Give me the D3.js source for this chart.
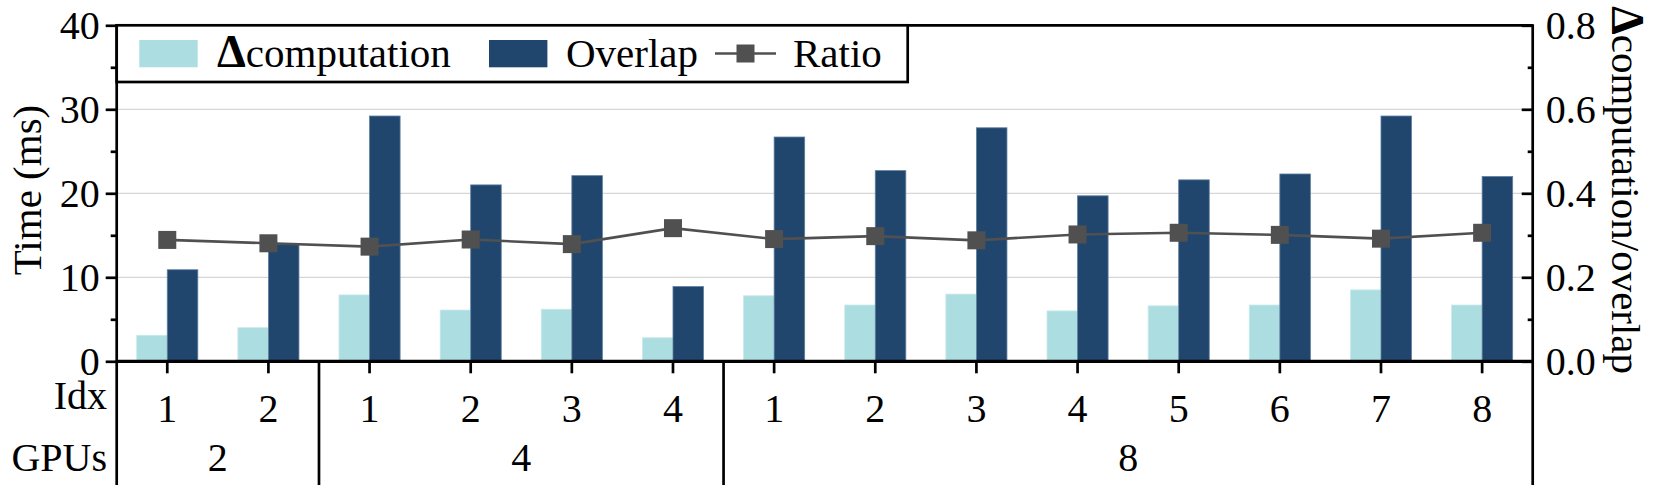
<!DOCTYPE html>
<html><head><meta charset="utf-8">
<script src="https://cdn.jsdelivr.net/npm/d3@7"></script>
<style>
body{margin:0;background:#fff;}
svg text{font-family:"Liberation Serif","Times New Roman",serif;fill:#000;}
</style></head><body><svg id="c" width="1661" height="492"></svg>
<script>
// ---- data ----
const gpuGroups = ["2", "4", "8"];
const gpus = ["2","2","4","4","4","4","8","8","8","8","8","8","8","8"];
const idx = ["1","2","1","2","3","4","1","2","3","4","5","6","7","8"];
const deltaComp = [3.1, 4.0, 7.9, 6.1, 6.2, 2.8, 7.8, 6.7, 8.0, 6.0, 6.6, 6.7, 8.5, 6.7];
const overlap   = [10.9, 13.9, 29.2, 21.0, 22.1, 8.9, 26.7, 22.7, 27.8, 19.7, 21.6, 22.3, 29.2, 22.0];
const ratio     = [0.289, 0.281, 0.273, 0.290, 0.279, 0.317, 0.291, 0.298, 0.288, 0.302, 0.306, 0.301, 0.292, 0.306];
const leftTicks = [0, 10, 20, 30, 40];
const leftMinor = [5, 15, 25, 35];
const rightTicks = [0, 0.2, 0.4, 0.6, 0.8];
const rightMinor = [0.1, 0.3, 0.5, 0.7];

// ---- layout ----
const L = 116.7, R = 1532.7, T = 25.3, B = 361.3, BOT = 485;
const C_LIGHT = "#acdde0", C_DARK = "#21466e", C_LINE = "#505050";
const AX = 2.7;
const svg = d3.select("#c");
const n = idx.length;
const x = d3.scaleBand().domain(d3.range(n)).range([L, R]).padding(0);
const cx = i => x(i) + x.bandwidth() / 2;
const yL = d3.scaleLinear().domain([0, 40]).range([B, T]);
const yR = d3.scaleLinear().domain([0, 0.8]).range([B, T]);
const barW = x.bandwidth() * 0.302;

// gridlines
svg.append("g").selectAll("line").data([10, 20, 30]).join("line")
  .attr("x1", L).attr("x2", R).attr("y1", d => yL(d)).attr("y2", d => yL(d))
  .attr("stroke", "#d6d6d6").attr("stroke-width", 1.2);

// bars
const bars = svg.append("g");
bars.selectAll(".lt").data(deltaComp).join("rect").attr("class", "lt")
  .attr("x", (d, i) => cx(i) - barW).attr("width", barW)
  .attr("y", d => yL(d)).attr("height", d => B - yL(d))
  .attr("fill", C_LIGHT).attr("stroke", "#c9e9eb").attr("stroke-width", 0.8);
bars.selectAll(".dk").data(overlap).join("rect").attr("class", "dk")
  .attr("x", (d, i) => cx(i)).attr("width", barW)
  .attr("y", d => yL(d)).attr("height", d => B - yL(d))
  .attr("fill", C_DARK).attr("stroke", "#5f7f9f").attr("stroke-width", 0.8);

// ratio line
const line = d3.line().x((d, i) => cx(i)).y(d => yR(d));
svg.append("path").datum(ratio).attr("d", line).attr("fill", "none")
  .attr("stroke", C_LINE).attr("stroke-width", 2.6);
const ms = 18;
svg.append("g").selectAll("rect").data(ratio).join("rect")
  .attr("x", (d, i) => cx(i) - ms / 2).attr("y", d => yR(d) - ms / 2)
  .attr("width", ms).attr("height", ms).attr("fill", C_LINE);

// axes
const TF = 40;
const gl = svg.append("g").attr("transform", `translate(${L},0)`)
  .call(d3.axisLeft(yL).tickValues(leftTicks).tickSize(11).tickPadding(6).tickFormat(d3.format("d")));
const glm = svg.append("g").attr("transform", `translate(${L},0)`)
  .call(d3.axisLeft(yL).tickValues(leftMinor).tickSize(6).tickFormat(""));
const gr = svg.append("g").attr("transform", `translate(${R},0)`)
  .call(d3.axisRight(yR).tickValues(rightTicks).tickSize(-11).tickPadding(13).tickFormat(d3.format(".1f")));
const grm = svg.append("g").attr("transform", `translate(${R},0)`)
  .call(d3.axisRight(yR).tickValues(rightMinor).tickSize(-5).tickFormat(""));
const gb = svg.append("g").attr("transform", `translate(0,${B})`)
  .call(d3.axisBottom(x).tickSize(12).tickPadding(20).tickFormat(i => idx[i]));
[gl, glm, gr, grm, gb].forEach(g => {
  g.select(".domain").remove();
  g.selectAll(".tick line").attr("stroke", "#000").attr("stroke-width", AX);
  g.selectAll(".tick text").attr("font-size", TF).attr("font-family", null);
});
gl.selectAll(".tick text").attr("dy", "0.33em");
gr.selectAll(".tick text").attr("dy", "0.33em");

// frame lines
const frame = svg.append("g").attr("stroke", "#000").attr("stroke-width", AX);
frame.append("line").attr("x1", L).attr("x2", R).attr("y1", T).attr("y2", T);
frame.append("line").attr("x1", L - 1).attr("x2", R + 1).attr("y1", B).attr("y2", B).attr("stroke-width", 3.2);
frame.append("line").attr("x1", L).attr("x2", L).attr("y1", T - 1).attr("y2", BOT);
frame.append("line").attr("x1", R).attr("x2", R).attr("y1", T - 1).attr("y2", BOT);
// group separators
const seps = [];
for (let i = 1; i < n; i++) if (gpus[i] !== gpus[i - 1]) seps.push(i);
frame.selectAll(".sep").data(seps).join("line").attr("class", "sep")
  .attr("x1", i => x(i)).attr("x2", i => x(i)).attr("y1", B).attr("y2", BOT);

// group labels
const groupCenters = gpuGroups.map(g => {
  const ids = d3.range(n).filter(i => gpus[i] === g);
  return { g, c: (x(ids[0]) + x(ids[ids.length - 1]) + x.bandwidth()) / 2 };
});
svg.append("g").selectAll("text").data(groupCenters).join("text")
  .attr("x", d => d.c).attr("y", 471).attr("text-anchor", "middle")
  .attr("font-size", TF).text(d => d.g);
svg.append("text").attr("x", 107).attr("y", 409).attr("text-anchor", "end").attr("font-size", 40).text("Idx");
svg.append("text").attr("x", 107).attr("y", 471).attr("text-anchor", "end").attr("font-size", 40).text("GPUs");

// axis titles
svg.append("text").attr("transform", "translate(41,190) rotate(-90)").attr("text-anchor", "middle")
  .attr("font-size", 41).text("Time (ms)");
const rt = svg.append("text").attr("transform", "translate(1612,190) rotate(90)").attr("text-anchor", "middle")
  .attr("font-size", 41);
rt.append("tspan").attr("font-weight", "bold").attr("font-size", 46).text("Δ");
rt.append("tspan").text("computation/overlap");

// legend
const lg = svg.append("g");
lg.append("rect").attr("x", L).attr("y", T).attr("width", 907.7 - L).attr("height", 82 - T)
  .attr("fill", "#fff").attr("stroke", "#000").attr("stroke-width", AX);
lg.append("rect").attr("x", 139.3).attr("y", 40).attr("width", 58.4).attr("height", 27.3).attr("fill", C_LIGHT);
const t1 = lg.append("text").attr("x", 217).attr("y", 67).attr("font-size", 41);
t1.append("tspan").attr("font-weight", "bold").attr("font-size", 46).text("Δ");
t1.append("tspan").text("computation");
lg.append("rect").attr("x", 489).attr("y", 40).attr("width", 58.4).attr("height", 27.3).attr("fill", C_DARK);
lg.append("text").attr("x", 566).attr("y", 67).attr("font-size", 41).text("Overlap");
lg.append("line").attr("x1", 715).attr("x2", 776).attr("y1", 53.5).attr("y2", 53.5).attr("stroke", C_LINE).attr("stroke-width", 2.6);
lg.append("rect").attr("x", 736.5).attr("y", 44.5).attr("width", ms).attr("height", ms).attr("fill", C_LINE);
lg.append("text").attr("x", 793).attr("y", 67).attr("font-size", 41).text("Ratio");
</script></body></html>
